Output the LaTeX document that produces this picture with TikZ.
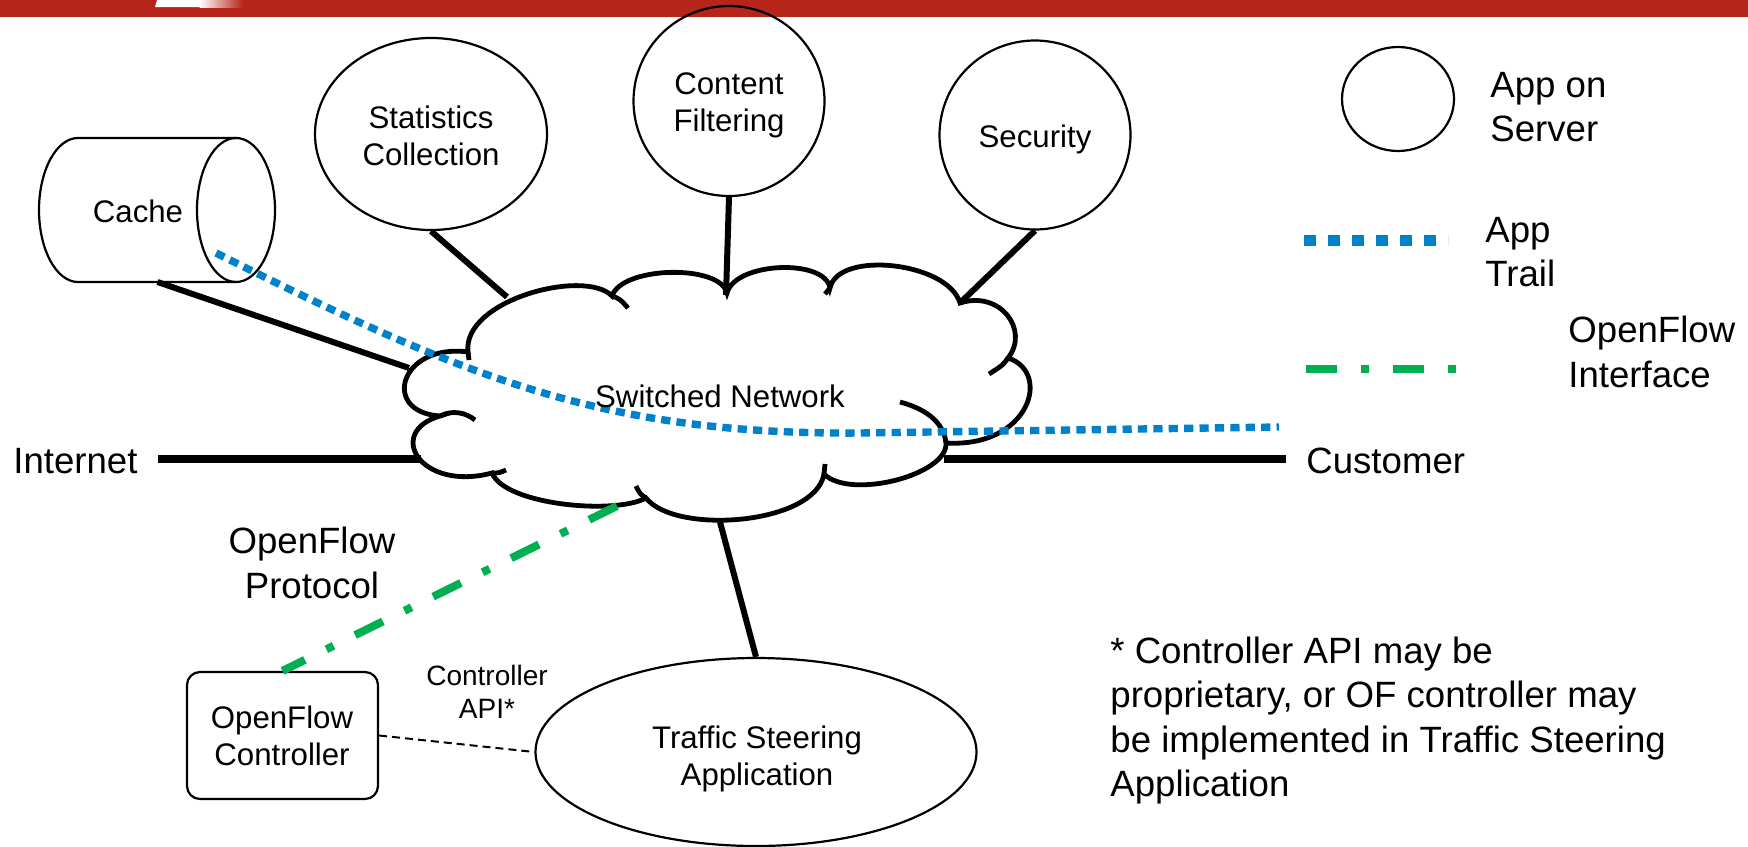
\documentclass[tikz,border=0pt]{standalone}
\usepackage{fontspec}
\setmainfont{Liberation Sans}
\usetikzlibrary{shapes.geometric}
\definecolor{bannerred}{RGB}{182,36,26}
\definecolor{trailblue}{RGB}{0,130,202}
\definecolor{ofgreen}{RGB}{0,176,80}
\begin{document}
\begin{tikzpicture}[x=0.5pt,y=-0.5pt,
  big/.style={font=\fontsize{18.3}{22}\selectfont, inner sep=0pt},
  small/.style={font=\fontsize{15.6}{18.5}\selectfont, inner sep=0pt},
  apitext/.style={font=\fontsize{14}{16.5}\selectfont, inner sep=0pt},
  app/.style={draw, ellipse, line width=1.1pt, inner sep=0pt},
  thickconn/.style={line width=3pt},
  cloudline/.style={line width=2.4pt},
  trail/.style={trailblue, line width=3.7pt, dash pattern=on 4.6pt off 3.1pt},
  ofline/.style={ofgreen, line width=4pt, dash pattern=on 15.5pt off 12pt on 4pt off 12pt},
  apiline/.style={line width=1pt, dash pattern=on 4pt off 2.5pt},
]
\useasboundingbox (0,0) rectangle (1748,846);
% banner
\fill[bannerred] (0,0) rectangle (1748,17);
\fill[white] (157,0) -- (200,0) -- (200,7) -- (155,7) -- cycle;
\shade[left color=white, right color=bannerred] (199.5,0) rectangle (243,7);

% app circles
\node[app, minimum width=116pt, minimum height=96pt] (stat) at (431,134) {};
\node[app, minimum width=95.5pt, minimum height=95pt] (cont) at (729,101) {};
\node[app, minimum width=95.5pt, minimum height=94.5pt] (sec) at (1035,135) {};
\node[app, minimum width=220.5pt, minimum height=94pt] (ts) at (756,752) {};
\node[app, minimum width=56pt, minimum height=52pt] (legapp) at (1398,99) {};
\node[draw, rounded corners=6.5pt, line width=1.1pt, minimum width=95.5pt, minimum height=63.5pt, inner sep=0pt] (ofc) at (282.5,735.5) {};

% cache cylinder
\node[minimum width=118.5pt, minimum height=72pt, inner sep=0pt, outer sep=0pt] (cache) at (157.5,210) {};
\draw[line width=1.1pt, fill=white] (236,138) -- (78,138) arc[start angle=270, end angle=90, x radius=39, y radius=72] -- (236,282);
\draw[line width=1.1pt] (236,210) ellipse [x radius=39, y radius=72];

% cloud
\draw[cloudline, fill=white] (468,352)
  .. controls (462,300) and (585,268) .. (612,296)
  .. controls (622,266) and (720,264) .. (727,293)
  .. controls (735,262) and (825,258) .. (830,288)
  .. controls (838,250) and (948,262) .. (960,303)
  .. controls (1000,290) and (1030,330) .. (1008,358)
  .. controls (1052,372) and (1030,448) .. (946,443)
  .. controls (948,475) and (850,500) .. (824,474)
  .. controls (815,525) and (675,535) .. (646,498)
  .. controls (615,515) and (505,505) .. (492,473)
  .. controls (420,492) and (385,432) .. (440,416)
  .. controls (380,412) and (400,343) .. (468,352) -- cycle;
% cloud creases
\draw[cloudline] (612,296) .. controls (620,299) .. (628,308);
\draw[cloudline] (830,288) -- (825,294);
\draw[cloudline] (1008,358) .. controls (1003,365) .. (989,374);
\draw[cloudline] (900,402) .. controls (930,410) and (944,425) .. (946,443);
\draw[cloudline] (824,474) -- (825,464);
\draw[cloudline] (646,498) .. controls (640,494) .. (636,486);
\draw[cloudline] (492,473) .. controls (499,473) .. (506,470);
\draw[cloudline] (440,416) .. controls (452,410) and (465,412) .. (475,420);
\draw[cloudline] (468,352) -- (469,360);

% connector end points on the cloud and free ends
\coordinate (cStat) at (507,297);
\coordinate (cCont) at (726,295);
\coordinate (cSec) at (960,303);
\coordinate (cTS) at (720,522);
\coordinate (cCache) at (409,368);
\coordinate (cWest) at (421,459);
\coordinate (cEast) at (944,459);
\coordinate (cGreen) at (617,506);
\coordinate (inetEnd) at (158,459);
\coordinate (custEnd) at (1286,459);
\coordinate (trailA) at (216,253);
\coordinate (trailB) at (1279,427);
\coordinate (lbA) at (1304,240);
\coordinate (lbB) at (1448,240);
\coordinate (lgA) at (1306,369);
\coordinate (lgB) at (1457,369);

% connectors
\draw[thickconn] (stat.south) -- (cStat);
\draw[thickconn] (cont.south) -- (cCont);
\draw[thickconn] (sec.south) -- (cSec);
\draw[thickconn] (ts.north) -- (cTS);
\draw[thickconn] (cache.south) -- (cCache);
\draw[line width=3.6pt] (inetEnd) -- (cWest);
\draw[line width=3.6pt] (cEast) -- (custEnd);
\draw[apiline] (ofc.east) -- (ts.west);
\draw[trail] (trailA) .. controls (460,375) and (600,435) .. (860,433) -- (trailB);
\draw[ofline] (cGreen) -- (ofc.north);

% legend lines
\draw[trailblue, line width=5.5pt, dash pattern=on 6pt off 6pt] (lbA) -- (lbB);
\draw[ofgreen, line width=3.6pt, dash pattern=on 15.5pt off 12pt on 4pt off 12pt] (lgA) -- (lgB);

% texts in shapes
\node[small, anchor=base] (tCache) at (138,222) {Cache};
\node[small, anchor=base] (tStat1) at (431,128) {Statistics};
\node[small, anchor=base] (tStat2) at (431,165) {Collection};
\node[small, anchor=base] (tCont1) at (729,94) {Content};
\node[small, anchor=base] (tCont2) at (729,131) {Filtering};
\node[small, anchor=base] (tSec) at (1035,147) {Security};
\node[small, anchor=base] (tNet) at (720,407) {Switched Network};
\node[small, anchor=base] (tOfc1) at (282,728) {OpenFlow};
\node[small, anchor=base] (tOfc2) at (282,765) {Controller};
\node[small, anchor=base] (tTs1) at (757,748) {Traffic Steering};
\node[small, anchor=base] (tTs2) at (757,785) {Application};
\node[apitext, anchor=base] (tApi1) at (487,685) {Controller};
\node[apitext, anchor=base] (tApi2) at (487,718) {API*};

% big labels
\node[big, anchor=base west] (tInet) at (13,473) {Internet};
\node[big, anchor=base west] (tCust) at (1306,473) {Customer};
\node[big, anchor=base] (tOfp1) at (312,553) {OpenFlow};
\node[big, anchor=base] (tOfp2) at (312,598) {Protocol};
\node[big, anchor=base west] (tLeg1a) at (1490,97) {App on};
\node[big, anchor=base west] (tLeg1b) at (1490,141) {Server};
\node[big, anchor=base west] (tLeg2a) at (1485,242) {App};
\node[big, anchor=base west] (tLeg2b) at (1485,286) {Trail};
\node[big, anchor=base west] (tLeg3a) at (1568,342) {OpenFlow};
\node[big, anchor=base west] (tLeg3b) at (1568,387) {Interface};
\node[big, anchor=base west] (tNote1) at (1110,663) {* Controller API may be};
\node[big, anchor=base west] (tNote2) at (1110,707) {proprietary, or OF controller may};
\node[big, anchor=base west] (tNote3) at (1110,752) {be implemented in Traffic Steering};
\node[big, anchor=base west] (tNote4) at (1110,796) {Application};
\end{tikzpicture}
\end{document}
